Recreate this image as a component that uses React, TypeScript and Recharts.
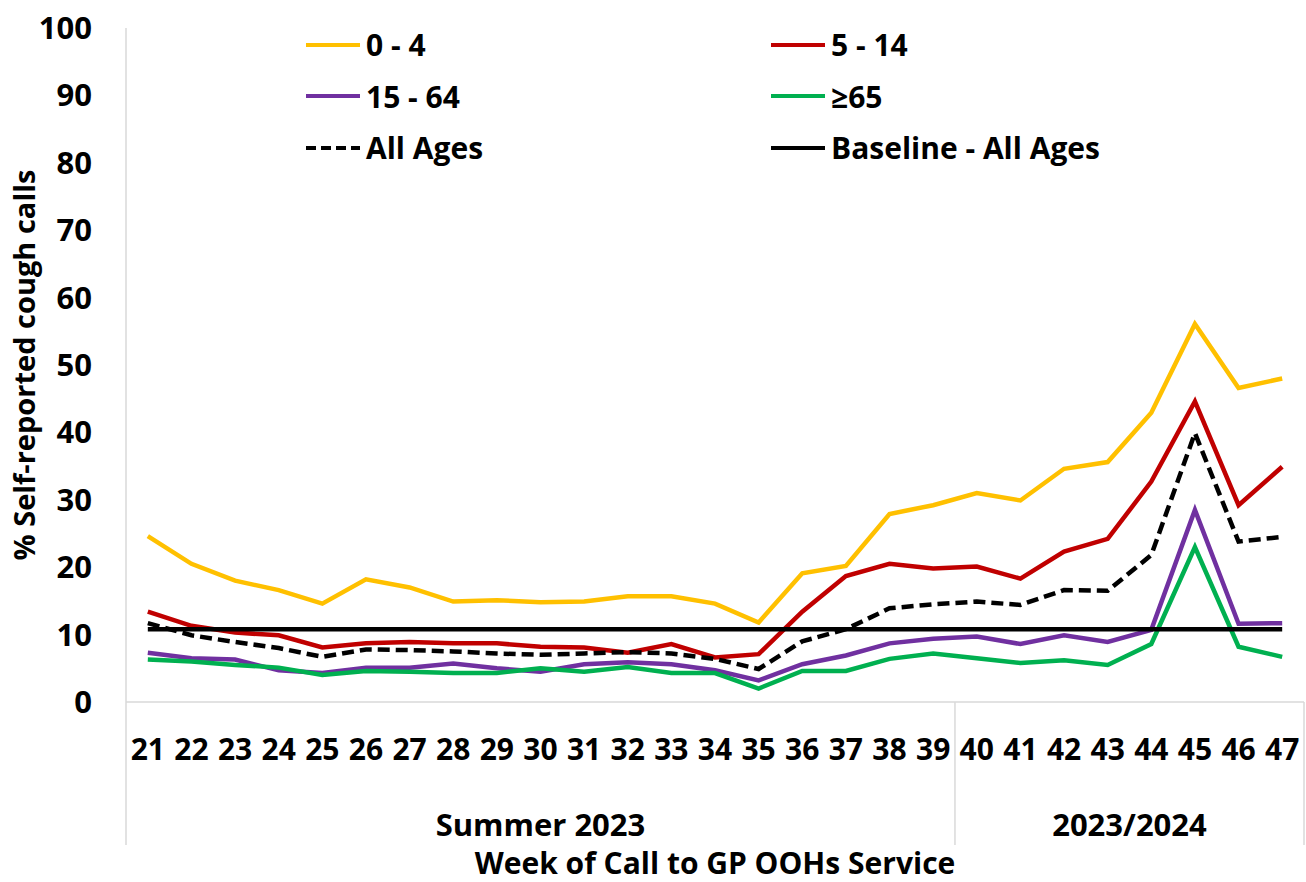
import React from 'react'
import { LineChart, Line, XAxis, YAxis } from 'recharts'

const weeks = ['21', '22', '23', '24', '25', '26', '27', '28', '29', '30', '31', '32', '33', '34', '35', '36', '37', '38', '39', '40', '41', '42', '43', '44', '45', '46', '47']

const age0to4 = [24.6, 20.5, 18.0, 16.6, 14.6, 18.2, 17.0, 14.9, 15.1, 14.8, 14.9, 15.7, 15.7, 14.6, 11.8, 19.1, 20.2, 27.9, 29.2, 31.0, 29.9, 34.6, 35.6, 42.9, 56.1, 46.6, 48.0]
const age5to14 = [13.4, 11.3, 10.3, 9.9, 8.1, 8.7, 8.9, 8.7, 8.7, 8.2, 8.1, 7.3, 8.6, 6.6, 7.1, 13.4, 18.7, 20.5, 19.8, 20.1, 18.3, 22.3, 24.2, 32.7, 44.6, 29.2, 34.9]
const age15to64 = [7.3, 6.5, 6.3, 4.7, 4.3, 5.1, 5.1, 5.7, 5.0, 4.5, 5.6, 5.9, 5.6, 4.7, 3.2, 5.6, 6.9, 8.7, 9.4, 9.7, 8.6, 9.9, 8.9, 10.7, 28.5, 11.6, 11.7]
const age65plus = [6.3, 6.0, 5.5, 5.1, 4.0, 4.6, 4.5, 4.3, 4.3, 5.0, 4.5, 5.2, 4.3, 4.3, 2.0, 4.6, 4.6, 6.4, 7.2, 6.5, 5.8, 6.2, 5.5, 8.6, 23.0, 8.2, 6.7]
const allAges = [11.7, 9.9, 8.9, 8.0, 6.7, 7.8, 7.7, 7.5, 7.2, 7.0, 7.2, 7.4, 7.2, 6.4, 4.9, 9.0, 10.8, 13.9, 14.5, 14.9, 14.4, 16.6, 16.5, 21.8, 39.9, 23.8, 24.5]
const baselineAll = [10.8, 10.8, 10.8, 10.8, 10.8, 10.8, 10.8, 10.8, 10.8, 10.8, 10.8, 10.8, 10.8, 10.8, 10.8, 10.8, 10.8, 10.8, 10.8, 10.8, 10.8, 10.8, 10.8, 10.8, 10.8, 10.8, 10.8]

const seasons = ['Summer 2023', '2023/2024']
const seasonSizes = [19, 8]
const yTicks = [0, 10, 20, 30, 40, 50, 60, 70, 80, 90, 100]

const data = weeks.map((week, i) => ({
  week,
  a: age0to4[i],
  b: age5to14[i],
  c: age15to64[i],
  d: age65plus[i],
  all: allAges[i],
  base: baselineAll[i],
}))

const FONT = '"Open Sans", "Liberation Sans", sans-serif'
const GRID = '#d9d9d9'

const W = 1306
const H = 882
const Y_AXIS_W = 126
const RIGHT = 2
const STEP = (W - Y_AXIS_W - RIGHT) / weeks.length

const series = [
  { key: 'a', name: '0 - 4', color: '#FFC000' },
  { key: 'b', name: '5 - 14', color: '#C00000' },
  { key: 'c', name: '15 - 64', color: '#7030A0' },
  { key: 'd', name: '\u226565', color: '#00B050' },
  { key: 'all', name: 'All Ages', color: '#000000', dash: '12 6' },
  { key: 'base', name: 'Baseline - All Ages', color: '#000000' },
]

// first index of each season on the category axis
const seasonStarts = seasonSizes.map((_, i) => seasonSizes.slice(0, i).reduce((s, n) => s + n, 0))

function WeekTick(props: any) {
  const { x, y, payload, index } = props
  const g = seasonStarts.indexOf(index)
  const isLast = index === weeks.length - 1
  return (
    <g>
      <text x={x} y={y + 46} textAnchor="middle" dominantBaseline="central" fontFamily={FONT} fontWeight={700} fontSize={30} fill="#000">
        {payload.value}
      </text>
      {g >= 0 && (
        <>
          <line x1={x - STEP / 2} x2={x - STEP / 2} y1={y} y2={y + 143} stroke={GRID} strokeWidth={1.5} />
          <text
            x={x + ((seasonSizes[g] - 1) * STEP) / 2}
            y={y + 122}
            textAnchor="middle"
            dominantBaseline="central"
            fontFamily={FONT}
            fontWeight={700}
            fontSize={31}
            fill="#000"
          >
            {seasons[g]}
          </text>
        </>
      )}
      {isLast && <line x1={x + STEP / 2} x2={x + STEP / 2} y1={y} y2={y + 143} stroke={GRID} strokeWidth={1.5} />}
    </g>
  )
}

function YTitle(props: any) {
  const { viewBox } = props
  const cx = viewBox.x + 23
  const cy = viewBox.y + viewBox.height / 2
  return (
    <text x={cx} y={cy} transform={`rotate(-90 ${cx} ${cy})`} textAnchor="middle" dominantBaseline="central" fontFamily={FONT} fontWeight={700} fontSize={29} fill="#000">
      % Self-reported cough calls
    </text>
  )
}

function XTitle(props: any) {
  const { viewBox } = props
  return (
    <text x={viewBox.x + viewBox.width / 2} y={viewBox.y + 160} textAnchor="middle" dominantBaseline="central" fontFamily={FONT} fontWeight={700} fontSize={30} fill="#000">
      Week of Call to GP OOHs Service
    </text>
  )
}

function ChartLegend() {
  return (
    <div
      style={{
        position: 'absolute',
        top: 19,
        left: 305,
        display: 'grid',
        gridTemplateColumns: '465px 400px',
        gridAutoRows: '51.5px',
        fontFamily: FONT,
        fontWeight: 700,
        fontSize: 30,
      }}
    >
      {series.map((s) => (
        <div key={s.key} style={{ display: 'flex', alignItems: 'center', whiteSpace: 'nowrap' }}>
          <svg width={56} height={10} style={{ marginRight: 5 }}>
            <line x1={1} x2={55} y1={5} y2={5} stroke={s.color} strokeWidth={4} strokeDasharray={s.dash ? '10 5' : undefined} />
          </svg>
          <span>{s.name}</span>
        </div>
      ))}
    </div>
  )
}

export default function App() {
  return (
    <div style={{ position: 'absolute', left: 0, top: 0, width: W, height: H, background: '#fff' }}>
      <LineChart width={W} height={H} data={data} margin={{ top: 28, right: RIGHT, left: 0, bottom: 0 }}>
        <XAxis
          dataKey="week"
          height={180}
          interval={0}
          padding={{ left: STEP / 2, right: STEP / 2 }}
          tickLine={false}
          tickSize={0}
          tickMargin={0}
          axisLine={{ stroke: GRID, strokeWidth: 1.5 }}
          tick={<WeekTick />}
          label={<XTitle />}
        />
        <YAxis
          width={Y_AXIS_W}
          domain={[0, 100]}
          ticks={yTicks}
          interval={0}
          tickLine={false}
          tickSize={0}
          tickMargin={34}
          axisLine={{ stroke: GRID, strokeWidth: 1.5 }}
          tick={{ fontFamily: FONT, fontWeight: 700, fontSize: 31, fill: '#000' }}
          label={<YTitle />}
        />
        {series.map((s) => (
          <Line
            key={s.key}
            type="linear"
            dataKey={s.key}
            name={s.name}
            stroke={s.color}
            strokeWidth={4.5}
            strokeDasharray={s.dash}
            dot={false}
            activeDot={false}
            isAnimationActive={false}
          />
        ))}
      </LineChart>
      <ChartLegend />
    </div>
  )
}
